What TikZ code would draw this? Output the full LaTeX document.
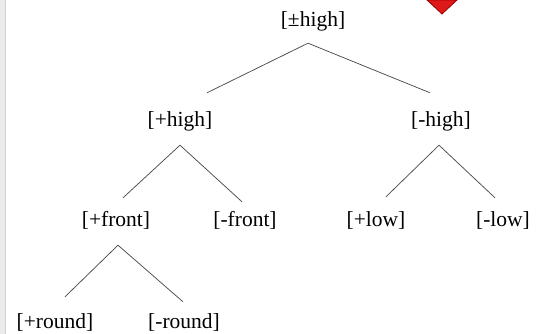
\documentclass[tikz,border=0pt]{standalone}
\usepackage{fontspec}
\setmainfont{Liberation Serif}

\tikzset{
  feat/.style={inner sep=0pt, text height=14pt, text depth=5pt, font=\fontsize{21.5}{24}\selectfont},
  branch/.style={draw=black!70, line width=0.75pt}
}

\begin{document}
\begin{tikzpicture}[x=1pt,y=1pt]
      \useasboundingbox (0,0) rectangle (536,-334);
      % page edge and the marker in the corner
      \fill[black!8] (0,0) rectangle (5,-334);
      \draw[black!18, line width=0.6pt] (5,0) -- (5,-334);
      \filldraw[fill=red!85!black!90, draw=red!60!black, line width=0.8pt]
        (427,0) -- (457,0) -- (442,-14) -- cycle;
      \draw
        (313,-22) node[feat] (root){[±high]}
        (180,-122.5) node[feat] (hp){[+high]}
        (441,-122) node[feat] (hm){[-high]}
        (116,-222) node[feat] (pf){[+front]}
        (245,-222) node[feat] (mf){[-front]}
        (376,-222) node[feat] (pl){[+low]}
        (503,-222) node[feat] (ml){[-low]}
        (55,-324) node[feat] (pr){[+round]}
        (184,-324) node[feat] (mr){[-round]};
      \begin{scope}[branch]
        \draw ([shift={(-5,-11.5)}]root.south) to ([shift={(27,20)}]hp.north);
        \draw ([shift={(-5,-11.5)}]root.south) to ([shift={(-11,19.5)}]hm.north);
        \draw ([shift={(0,-13)}]hp.south) to ([shift={(7,14.5)}]pf.north);
        \draw ([shift={(0,-13)}]hp.south) to ([shift={(-3,10.5)}]mf.north);
        \draw ([shift={(-2,-13.5)}]hm.south) to ([shift={(10,15.5)}]pl.north);
        \draw ([shift={(-2,-13.5)}]hm.south) to ([shift={(-8,14.5)}]ml.north);
        \draw ([shift={(2,-13.5)}]pf.south) to ([shift={(10,17.5)}]pr.north);
        \draw ([shift={(2,-13.5)}]pf.south) to ([shift={(-1,12.5)}]mr.north);
      \end{scope}
    \end{tikzpicture}
\end{document}
